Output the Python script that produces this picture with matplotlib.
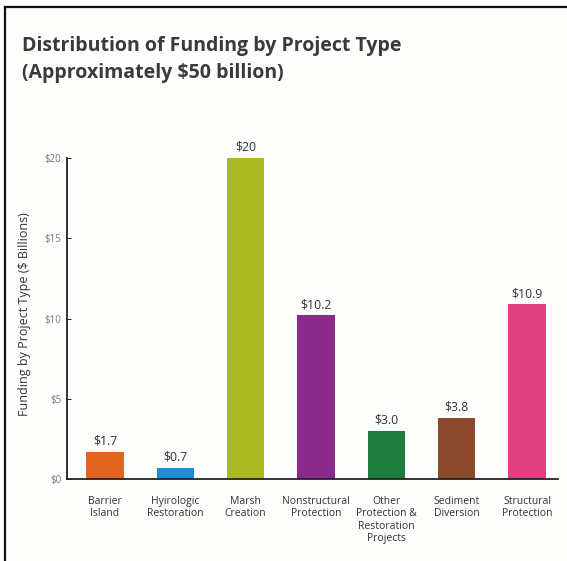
import matplotlib.pyplot as plt
from matplotlib.lines import Line2D

categories = ['Barrier\nIsland', 'Hyirologic\nRestoration', 'Marsh\nCreation',
              'Nonstructural\nProtection', 'Other\nProtection &\nRestoration\nProjects',
              'Sediment\nDiversion', 'Structural\nProtection']
funding = [1.7, 0.7, 20, 10.2, 3.0, 3.8, 10.9]
value_labels = ['$1.7', '$0.7', '$20', '$10.2', '$3.0', '$3.8', '$10.9']
bar_colors = ['#e0651f', '#1f8fd2', '#a9ba22', '#8a2b8c', '#1d7b3b', '#8a4a2b', '#e03f82']
yticks = [0, 5, 10, 15, 20]
ytick_labels = ['$0', '$5', '$10', '$15', '$20']

W, H = 567, 561
fig = plt.figure(figsize=(W / 100, H / 100), dpi=100)
fig.patch.set_facecolor('#fdfdfb')

# outer frame (left and top edges only)
fig.add_artist(Line2D([5 / W, 5 / W], [0, 1 - 7 / H], color='#111111', lw=1.6))
fig.add_artist(Line2D([5 / W, 1], [1 - 7 / H, 1 - 7 / H], color='#111111', lw=1.6))

fig.text(22 / W, 1 - 46 / H, 'Distribution of Funding by Project Type',
         fontsize=14, fontweight='bold', color='#3a3a3a', family='Open Sans', va='center')
fig.text(22 / W, 1 - 73 / H, '(Approximately $50 billion)',
         fontsize=14, fontweight='bold', color='#3a3a3a', family='Open Sans', va='center')

ax = fig.add_axes([67 / W, 1 - 479 / H, (558 - 67) / W, (479 - 158) / H])
ax.set_facecolor('none')
x = range(len(categories))
bars = ax.bar(x, funding, width=0.53, color=bar_colors)
for b, lab in zip(bars, value_labels):
    ax.text(b.get_x() + b.get_width() / 2, b.get_height() + 0.25, lab,
            ha='center', va='bottom', fontsize=8.8, color='#333333', family='Open Sans')

ax.set_xlim(-0.54, 6.44)
ax.set_ylim(0, 20)
ax.set_yticks(yticks)
ax.set_yticklabels(ytick_labels, fontsize=7, color='#777777', family='Open Sans')
ax.tick_params(axis='y', direction='in', length=3, width=0.6, pad=4)
ax.set_xticks(list(x))
ax.set_xticklabels(categories, fontsize=7.5, color='#333333', family='Open Sans',
                   linespacing=1.2)
ax.tick_params(axis='x', length=0, pad=12)
for s in ['top', 'right']:
    ax.spines[s].set_visible(False)
for s in ['left', 'bottom']:
    ax.spines[s].set_linewidth(1.3)
    ax.spines[s].set_color('#222222')

fig.text(25 / W, 1 - 314 / H, 'Funding by Project Type ($ Billions)', rotation=90,
         ha='center', va='center', fontsize=9, color='#333333', family='Open Sans')

fig.savefig('out.png', dpi=100, facecolor=fig.get_facecolor())
